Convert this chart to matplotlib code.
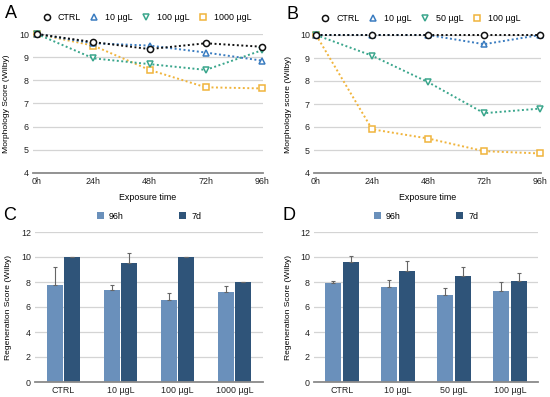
import matplotlib
matplotlib.use("Agg")
import matplotlib.pyplot as plt
import numpy as np

plt.rcParams['font.family'] = ['Liberation Sans', 'DejaVu Sans']

# ---- data ----
time_labels = ['0h', '24h', '48h', '72h', '96h']
time_vals = [0, 24, 48, 72, 96]

a_series = ['CTRL', '10 µgL', '100 µgL', '1000 µgL']
a_ctrl = [10, 9.65, 9.35, 9.6, 9.45]
a_10 = [10, 9.6, 9.5, 9.2, 8.85]
a_100 = [10, 8.95, 8.7, 8.45, 9.3]
a_1000 = [10, 9.5, 8.45, 7.7, 7.65]

b_series = ['CTRL', '10 µgL', '50 µgL', '100 µgL']
b_ctrl = [10, 10, 10, 10, 10]
b_10 = [10, 10, 10, 9.6, 10]
b_50 = [10, 9.1, 7.95, 6.6, 6.8]
b_100 = [10, 5.9, 5.5, 4.95, 4.85]

c_cats = ['CTRL', '10 µgL', '100 µgL', '1000 µgL']
c_96h = [7.8, 7.4, 6.6, 7.2]
c_96h_err = [1.4, 0.4, 0.5, 0.5]
c_7d = [10, 9.5, 10, 8]
c_7d_err = [0, 0.8, 0, 0]

d_cats = ['CTRL', '10 µgL', '50 µgL', '100 µgL']
d_96h = [7.9, 7.6, 7.0, 7.3]
d_96h_err = [0.2, 0.6, 0.5, 0.7]
d_7d = [9.6, 8.9, 8.5, 8.1]
d_7d_err = [0.5, 0.8, 0.7, 0.6]

bar_labels = ['96h', '7d']

# ---- styles ----
W, H = 550, 397
line_colors = ['#111111', '#3a7cc0', '#3aa68c', '#f0b43c']
markers = ['o', '^', 'v', 's']
c_light = '#6a90bb'
c_dark = '#2f5479'
grid_c = '#d4d4d4'
fs = 6.4

fig = plt.figure(figsize=(W / 100, H / 100), dpi=100)


def ax_at(l, r, t, b):
    return fig.add_axes([l / W, 1 - b / H, (r - l) / W, (b - t) / H])


def style_common(ax):
    for s in ['top', 'right', 'left']:
        ax.spines[s].set_visible(False)
    ax.spines['bottom'].set_color('#8a8a8a')
    ax.spines['bottom'].set_linewidth(1.3)
    ax.tick_params(length=0, labelsize=fs, pad=3, colors='#222222')
    ax.yaxis.grid(True, color=grid_c, lw=0.9)
    ax.set_axisbelow(True)


def line_panel(ax, series_vals, names, ylabel, letter, xlim, lx):
    style_common(ax)
    n = len(series_vals)
    handles = []
    for i in reversed(range(n)):
        h, = ax.plot(time_vals, series_vals[i], ls=(0, (1, 1.3)), lw=1.4,
                     color=line_colors[i], marker=markers[i], ms=4.4,
                     mfc='white', mec=line_colors[i], mew=1.1,
                     clip_on=False, zorder=3 + (n - i))
        handles.append(h)
    handles = handles[::-1]
    ax.set_xlim(*xlim)
    ax.set_ylim(4, 10)
    ax.set_yticks(range(4, 11))
    ax.set_xticks(time_vals)
    ax.set_xticklabels(time_labels)
    ax.set_ylabel(ylabel, fontsize=fs - 0.3, labelpad=6)
    ax.set_xlabel('Exposure time', fontsize=fs, labelpad=5)
    leg = ax.legend(handles, names, ncol=4, loc='lower center',
                    bbox_to_anchor=(lx, 1.06), frameon=False, fontsize=fs,
                    handlelength=1.0, handletextpad=0.7, columnspacing=1.05,
                    borderaxespad=0)
    for lh in leg.get_lines():
        lh.set_linestyle('none')
    ax.text(-0.12, 1.21, letter, transform=ax.transAxes, fontsize=13,
            va='top', ha='left')


def bar_panel(ax, cats, v1, e1, v2, e2, letter):
    style_common(ax)
    x = np.arange(len(cats))
    w = 0.28
    off = 0.155
    ek = dict(ecolor='#666666', elinewidth=0.8, capsize=1.3, capthick=0.8)
    b1 = ax.bar(x - off, v1, w, color=c_light, zorder=2,
                yerr=[np.zeros(len(v1)), e1], error_kw=ek)
    b2 = ax.bar(x + off, v2, w, color=c_dark, zorder=2,
                yerr=[np.zeros(len(v2)), e2], error_kw=ek)
    ax.set_xlim(-0.5, len(cats) - 0.5)
    ax.set_ylim(0, 12)
    ax.set_yticks(range(0, 13, 2))
    ax.set_xticks(x)
    ax.set_xticklabels(cats)
    ax.set_ylabel('Regeneration Score (Wilby)', fontsize=fs - 0.3, labelpad=6)
    ax.legend([b1, b2], bar_labels, ncol=2, loc='lower center',
              bbox_to_anchor=(0.5, 1.05), frameon=False, fontsize=fs,
              handlelength=0.8, handleheight=0.8, handletextpad=0.6,
              columnspacing=6.2, borderaxespad=0)
    ax.text(-0.14, 1.17, letter, transform=ax.transAxes, fontsize=13,
            va='top', ha='left')


axA = ax_at(33, 263, 34, 173)
line_panel(axA, [a_ctrl, a_10, a_100, a_1000], a_series,
           'Morphology Score (Wilby)', 'A', (-1.7, 96.4), 0.495)

axB = ax_at(314, 541, 35, 173)
line_panel(axB, [b_ctrl, b_10, b_50, b_100], b_series,
           'Morphology score (Wilby)', 'B', (-0.9, 96.4), 0.47)

axC = ax_at(35, 263, 232, 382)
bar_panel(axC, c_cats, c_96h, c_96h_err, c_7d, c_7d_err, 'C')

axD = ax_at(314, 538, 232, 382)
bar_panel(axD, d_cats, d_96h, d_96h_err, d_7d, d_7d_err, 'D')

fig.savefig('out.png', dpi=100)
